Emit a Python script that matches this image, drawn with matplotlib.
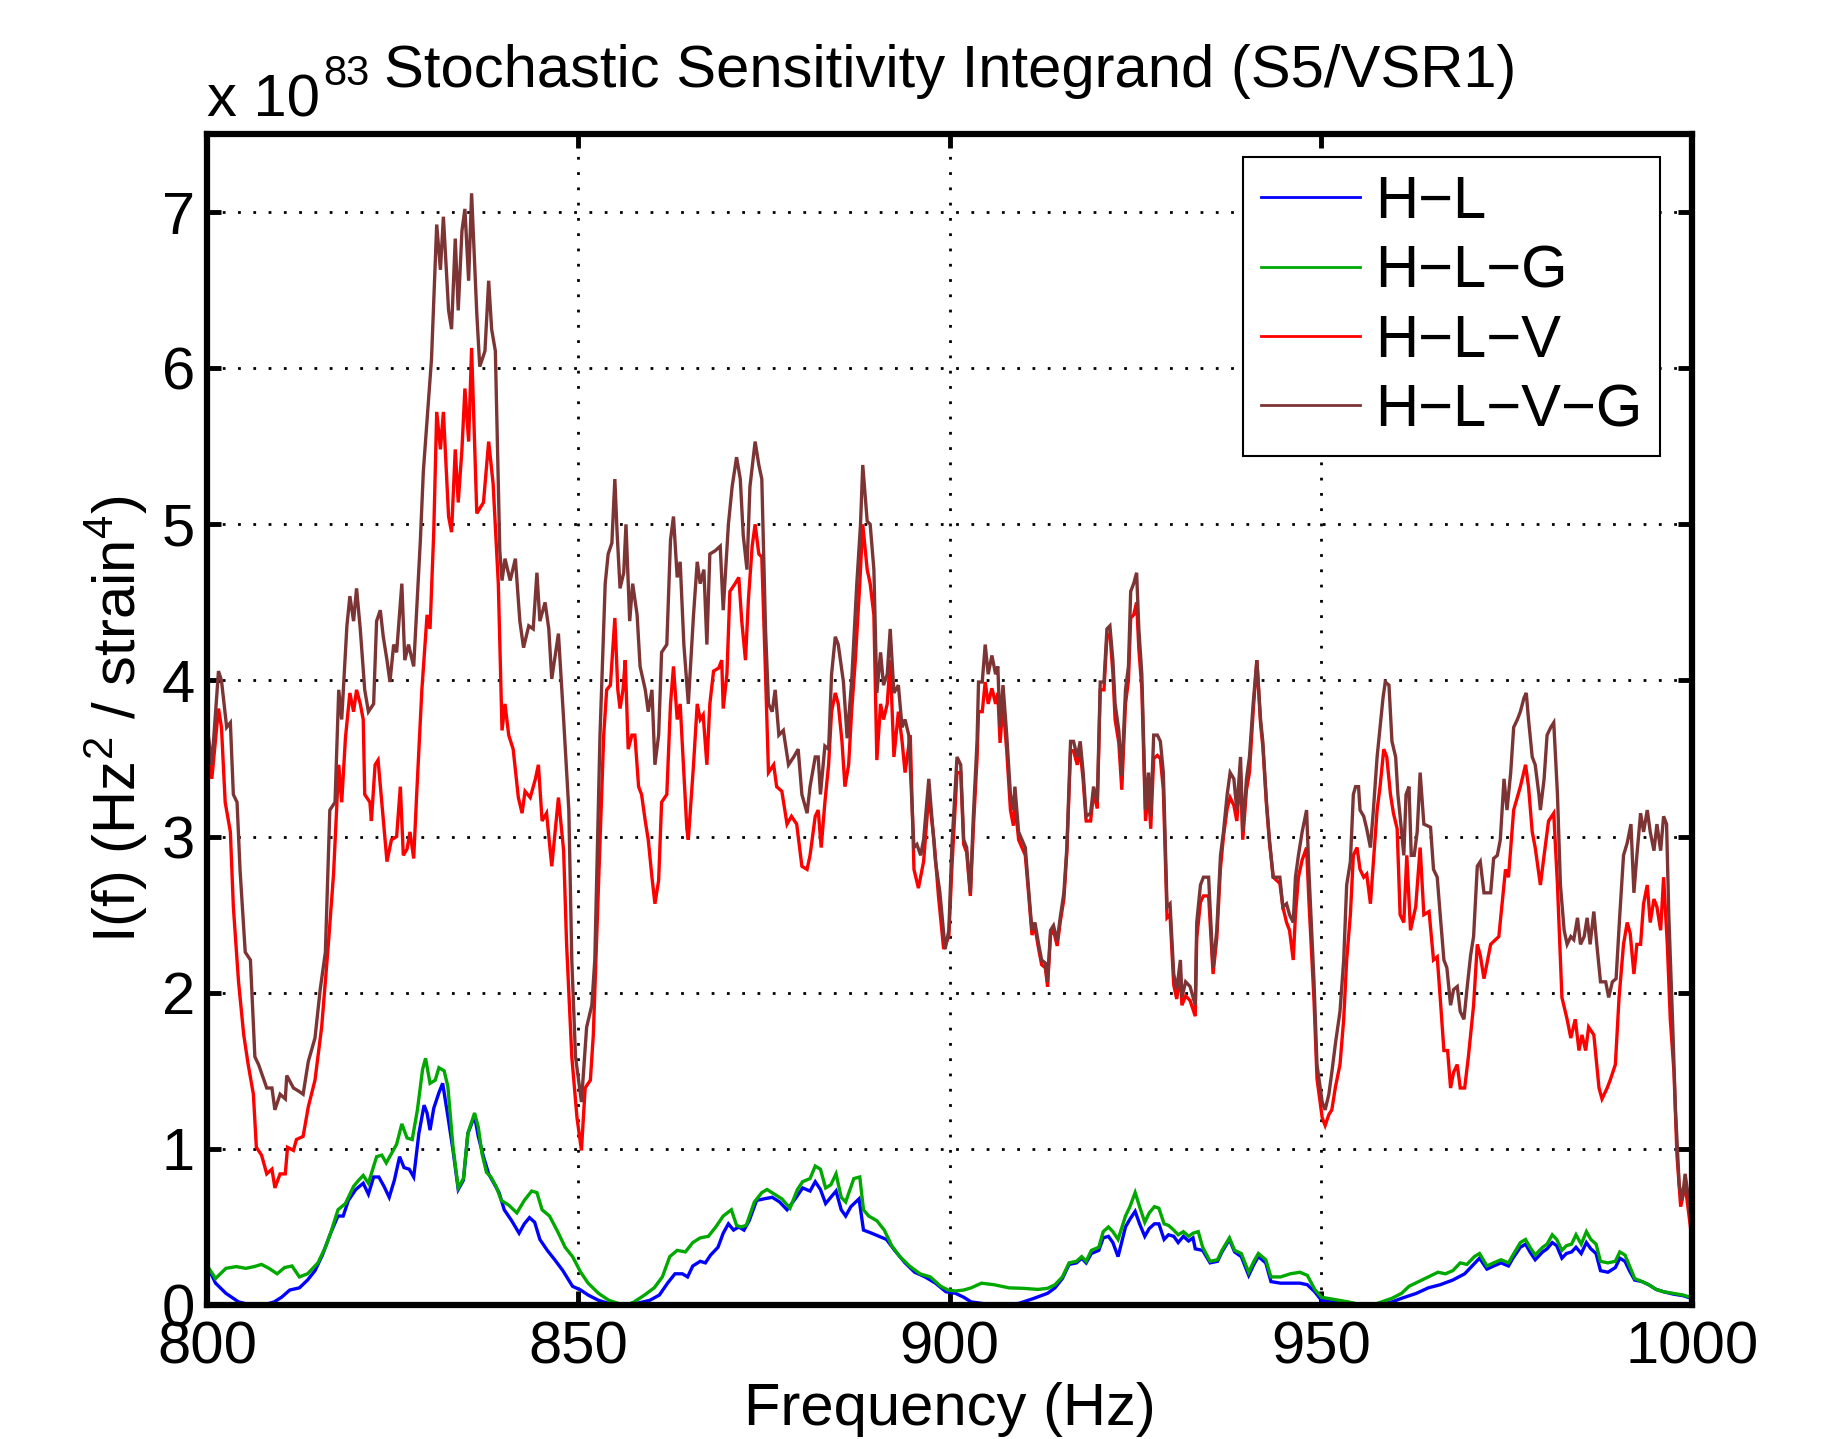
import matplotlib
matplotlib.use("Agg")
import matplotlib.pyplot as plt

plt.rcParams['font.family'] = ['Liberation Sans', 'DejaVu Sans']
plt.rcParams['mathtext.fontset'] = 'custom'
plt.rcParams['mathtext.rm'] = 'Liberation Sans'
plt.rcParams['mathtext.it'] = 'Liberation Sans:italic'
plt.rcParams['mathtext.bf'] = 'Liberation Sans:bold'

# ---------------- data (units of 1e83 Hz^2/strain^4) ----------------
f_hlvg = [800.0, 800.6, 801.5, 801.9, 802.6, 803.1, 803.5, 804.0, 804.4, 805.1, 805.8, 806.4, 806.9, 808.0, 808.7,
          809.1, 809.8, 810.5, 810.7, 811.6, 812.3, 812.9, 813.6, 814.5, 815.2, 815.9, 816.5, 817.2, 817.7, 818.1,
          818.8, 819.2, 819.7, 820.1, 820.6, 821.2, 821.7, 822.4, 822.8, 823.3, 823.7, 824.2, 824.6, 825.1, 825.5,
          826.2, 826.6, 827.1, 827.8, 828.7, 829.1, 829.6, 830.2, 830.9, 831.4, 831.8, 832.5, 832.9, 833.4, 833.8,
          834.3, 834.7, 835.2, 835.6, 836.3, 836.7, 837.4, 837.9, 838.3, 838.8, 839.4, 839.7, 840.1, 840.8, 841.5,
          842.1, 842.6, 843.3, 843.9, 844.4, 844.8, 845.5, 846.0, 846.4, 847.3, 848.0, 848.7, 849.1, 849.6, 850.4,
          851.1, 851.8, 852.2, 852.9, 853.6, 854.0, 854.5, 854.9, 855.2, 855.6, 856.1, 856.4, 856.9, 857.3, 857.9,
          858.3, 859.0, 859.4, 859.9, 860.3, 860.8, 861.2, 861.9, 862.4, 862.8, 863.3, 863.7, 864.2, 864.8, 865.5,
          866.0, 866.4, 866.9, 867.3, 867.7, 868.4, 869.1, 869.5, 870.2, 870.7, 871.3, 871.8, 872.2, 872.7, 873.1,
          873.8, 874.3, 874.7, 875.2, 875.6, 876.1, 876.5, 877.0, 877.6, 878.3, 879.0, 879.6, 880.1, 880.8, 881.2,
          881.9, 882.3, 882.6, 883.2, 883.7, 884.1, 884.6, 885.0, 885.7, 886.2, 886.8, 887.5, 888.0, 888.3, 888.9,
          889.3, 889.8, 890.2, 890.7, 891.1, 891.6, 892.0, 892.5, 893.1, 893.6, 894.0, 894.5, 895.2, 895.6, 896.1,
          896.5, 897.2, 897.6, 898.1, 898.7, 899.4, 899.9, 900.3, 901.0, 901.5, 901.9, 902.3, 902.8, 903.2, 903.7,
          903.9, 904.4, 904.8, 905.2, 905.7, 906.2, 906.5, 906.8, 907.2, 907.7, 908.2, 908.6, 908.8, 909.3, 910.2,
          910.6, 911.1, 911.5, 912.0, 912.4, 912.9, 913.2, 913.6, 914.0, 914.5, 914.9, 915.4, 915.8, 916.3, 916.7,
          917.2, 917.6, 918.0, 918.4, 919.0, 919.4, 919.9, 920.3, 920.8, 921.2, 921.6, 922.0, 922.3, 922.8, 923.2,
          923.7, 924.1, 924.4, 924.8, 925.2, 925.5, 925.9, 926.4, 926.8, 927.1, 927.5, 928.0, 928.4, 928.8, 929.3,
          929.7, 930.2, 930.6, 931.1, 931.3, 931.8, 932.4, 933.1, 933.3, 933.8, 934.2, 934.9, 935.5, 936.0, 936.5,
          936.9, 937.4, 937.8, 938.3, 938.7, 939.2, 939.5, 940.0, 940.4, 940.9, 941.4, 941.9, 942.2, 942.7, 943.1,
          943.6, 944.5, 944.9, 945.4, 945.8, 946.3, 946.6, 947.0, 947.5, 948.1, 948.4, 949.1, 949.5, 950.2, 950.6,
          951.1, 951.5, 952.0, 952.6, 953.1, 953.5, 954.0, 954.4, 954.7, 955.1, 955.3, 955.8, 956.2, 956.7, 957.1,
          957.6, 958.0, 958.4, 958.7, 959.2, 959.6, 960.1, 960.4, 960.7, 961.2, 961.5, 961.9, 962.2, 962.6, 963.0,
          963.4, 963.9, 964.8, 965.2, 965.7, 966.1, 966.6, 967.0, 967.5, 967.9, 968.4, 968.8, 969.3, 969.7, 970.2,
          970.6, 971.1, 971.5, 972.0, 972.9, 973.3, 973.8, 974.2, 974.7, 975.1, 975.6, 976.0, 976.5, 976.9, 977.4,
          977.7, 978.0, 978.5, 978.9, 979.4, 979.6, 980.1, 980.5, 981.0, 981.4, 981.9, 982.3, 982.8, 983.2, 983.7,
          984.1, 984.6, 985.0, 985.5, 985.9, 986.3, 986.8, 987.2, 987.7, 988.4, 988.8, 989.3, 989.8, 990.3, 990.8,
          991.3, 991.8, 992.2, 992.6, 993.1, 993.5, 994.0, 994.4, 994.9, 995.3, 995.8, 996.2, 996.6, 996.9, 997.4,
          997.8, 998.3, 998.7, 999.1, 999.6, 1000.0]
i_hlvg = [3.70, 3.46, 4.06, 4.00, 3.70, 3.73, 3.27, 3.22, 2.79, 2.26, 2.21, 1.59, 1.54, 1.39, 1.39,
          1.25, 1.35, 1.32, 1.47, 1.39, 1.37, 1.35, 1.56, 1.71, 2.02, 2.26, 3.17, 3.22, 3.94, 3.75,
          4.35, 4.54, 4.38, 4.59, 4.33, 3.94, 3.80, 3.85, 4.38, 4.45, 4.28, 4.13, 3.99, 4.23, 4.18,
          4.62, 4.13, 4.23, 4.09, 4.90, 5.34, 5.67, 6.06, 6.92, 6.63, 6.97, 6.37, 6.25, 6.83, 6.37,
          6.88, 7.02, 6.56, 7.12, 6.35, 6.01, 6.11, 6.56, 6.25, 6.11, 4.83, 4.64, 4.78, 4.64, 4.78,
          4.38, 4.21, 4.35, 4.33, 4.69, 4.38, 4.50, 4.33, 4.01, 4.30, 3.75, 3.17, 2.21, 1.59, 1.30,
          1.78, 1.92, 2.21, 3.65, 4.62, 4.81, 4.88, 5.29, 4.95, 4.59, 4.69, 5.00, 4.38, 4.62, 4.42,
          4.09, 3.94, 3.80, 3.94, 3.46, 3.65, 4.18, 4.23, 4.90, 5.05, 4.66, 4.76, 4.23, 3.85, 4.42,
          4.76, 4.62, 4.71, 4.23, 4.81, 4.83, 4.86, 4.45, 5.00, 5.24, 5.43, 5.29, 4.93, 4.71, 5.24,
          5.53, 5.38, 5.29, 4.33, 3.85, 3.80, 3.94, 3.65, 3.68, 3.46, 3.51, 3.56, 3.27, 3.15, 3.32,
          3.51, 3.51, 3.27, 3.58, 3.56, 4.04, 4.28, 4.23, 3.99, 3.63, 3.99, 4.62, 5.00, 5.38, 5.02,
          5.00, 4.71, 3.92, 4.18, 3.97, 4.04, 4.33, 3.92, 3.97, 3.70, 3.75, 3.65, 2.93, 2.95, 2.88,
          2.98, 3.37, 3.13, 2.84, 2.64, 2.28, 2.40, 2.93, 3.51, 3.46, 2.98, 2.93, 2.64, 3.13, 3.61,
          3.99, 3.99, 4.23, 4.04, 4.16, 4.04, 4.09, 3.70, 3.97, 3.65, 3.27, 3.17, 3.32, 3.03, 2.93,
          2.69, 2.40, 2.45, 2.31, 2.21, 2.19, 2.07, 2.40, 2.43, 2.33, 2.48, 2.64, 2.93, 3.61, 3.61,
          3.51, 3.61, 3.41, 3.13, 3.15, 3.32, 3.22, 3.99, 3.99, 4.33, 4.35, 4.13, 3.85, 3.68, 3.39,
          3.94, 4.09, 4.57, 4.62, 4.69, 4.33, 4.04, 3.17, 3.41, 3.13, 3.65, 3.65, 3.61, 3.41, 2.55,
          2.57, 2.12, 2.02, 2.21, 1.97, 2.07, 2.04, 1.92, 2.45, 2.69, 2.74, 2.74, 2.16, 2.40, 2.88,
          3.03, 3.27, 3.41, 3.37, 3.17, 3.51, 3.03, 3.37, 3.51, 3.85, 4.13, 3.75, 3.61, 3.22, 2.98,
          2.74, 2.74, 2.55, 2.57, 2.50, 2.45, 2.74, 2.88, 3.03, 3.17, 2.79, 2.07, 1.54, 1.30, 1.25,
          1.35, 1.49, 1.68, 1.88, 2.21, 2.69, 2.84, 3.27, 3.32, 3.32, 3.17, 3.13, 3.05, 2.93, 3.17,
          3.51, 3.70, 3.89, 3.99, 3.97, 3.61, 3.51, 3.27, 3.13, 2.88, 3.27, 3.32, 2.88, 2.88, 3.03,
          3.41, 3.08, 3.06, 2.79, 2.74, 2.50, 2.21, 2.16, 1.92, 2.02, 2.04, 1.88, 1.83, 2.02, 2.24,
          2.36, 2.81, 2.84, 2.64, 2.64, 2.86, 2.88, 2.98, 3.37, 3.17, 3.41, 3.70, 3.75, 3.80, 3.89,
          3.92, 3.75, 3.51, 3.46, 3.27, 3.17, 3.37, 3.65, 3.70, 3.73, 3.27, 2.69, 2.40, 2.31, 2.36,
          2.34, 2.48, 2.31, 2.36, 2.48, 2.31, 2.52, 2.31, 2.07, 2.07, 1.97, 2.07, 2.09, 2.50, 2.88,
          2.96, 3.08, 2.64, 2.88, 3.15, 3.03, 3.17, 3.03, 2.91, 3.08, 2.91, 3.13, 3.08, 2.50, 1.83,
          1.25, 0.77, 0.67, 0.84, 0.67, 0.48]

f_hlv = [800.0, 800.6, 801.5, 801.9, 802.4, 803.1, 803.5, 804.2, 804.9, 805.5, 806.2, 806.6, 807.3, 808.0, 808.7,
         809.1, 809.8, 810.5, 810.8, 811.6, 812.0, 812.9, 813.6, 814.5, 815.4, 816.3, 817.0, 817.7, 818.1, 818.6,
         819.2, 819.7, 820.1, 820.6, 821.0, 821.2, 821.9, 822.1, 822.6, 823.0, 823.5, 824.2, 824.8, 825.5, 826.0,
         826.4, 826.9, 827.3, 827.8, 828.2, 828.9, 829.6, 830.0, 830.5, 830.9, 831.4, 831.8, 832.5, 832.9, 833.4,
         833.8, 834.3, 834.7, 835.2, 835.6, 836.3, 837.2, 837.9, 838.5, 839.2, 839.7, 840.1, 840.6, 841.2, 841.9,
         842.4, 842.8, 843.5, 844.2, 844.6, 845.1, 845.7, 846.4, 847.3, 848.0, 848.4, 849.1, 849.8, 850.4, 850.9,
         851.6, 852.0, 852.7, 853.4, 853.8, 854.3, 854.9, 855.3, 855.6, 856.0, 856.3, 856.7, 857.2, 857.6, 858.1,
         858.5, 859.0, 859.4, 859.9, 860.3, 860.8, 861.2, 861.9, 862.4, 862.8, 863.3, 863.7, 864.2, 864.6, 864.8,
         865.5, 866.0, 866.4, 866.8, 867.3, 867.7, 868.2, 868.9, 869.3, 869.5, 870.0, 870.4, 871.1, 871.6, 872.0,
         872.5, 872.9, 873.4, 873.8, 874.3, 874.7, 875.2, 875.6, 876.3, 876.7, 877.4, 878.1, 878.7, 879.4, 880.1,
         880.8, 881.2, 881.9, 882.3, 882.7, 883.2, 883.7, 884.1, 884.6, 885.0, 885.5, 885.9, 886.4, 886.8, 887.3,
         887.9, 888.3, 888.9, 889.3, 889.8, 890.2, 890.7, 891.1, 891.6, 892.0, 892.5, 893.1, 893.6, 894.0, 894.7,
         895.2, 895.8, 896.5, 897.2, 897.9, 898.5, 899.2, 899.9, 900.3, 901.0, 901.5, 901.9, 902.3, 902.8, 903.2,
         903.7, 903.9, 904.4, 904.8, 905.2, 905.7, 906.2, 906.5, 906.8, 907.2, 907.7, 908.2, 908.6, 908.8, 909.3,
         910.2, 910.6, 911.1, 911.5, 912.0, 912.4, 912.9, 913.2, 913.6, 914.0, 914.5, 914.9, 915.4, 915.8, 916.3,
         916.7, 917.2, 917.6, 918.0, 918.4, 919.0, 919.4, 919.9, 920.3, 920.8, 921.2, 921.6, 922.0, 922.3, 922.8,
         923.2, 923.7, 924.1, 924.4, 924.8, 925.2, 925.5, 925.9, 926.4, 926.8, 927.1, 927.5, 928.0, 928.4, 928.8,
         929.3, 929.7, 930.2, 930.6, 931.1, 931.3, 931.8, 932.4, 933.1, 933.3, 933.8, 934.2, 934.9, 935.5, 936.0,
         936.5, 936.9, 937.4, 937.8, 938.3, 938.7, 939.2, 939.5, 940.0, 940.4, 940.9, 941.4, 941.9, 942.2, 942.7,
         943.1, 943.6, 944.5, 944.9, 945.4, 945.8, 946.3, 946.6, 947.0, 947.5, 948.1, 948.4, 949.1, 949.5, 950.2,
         950.6, 951.1, 951.5, 952.0, 952.6, 953.1, 953.5, 954.0, 954.4, 954.9, 955.3, 955.8, 956.2, 956.7, 957.1,
         957.6, 958.0, 958.5, 958.9, 959.4, 959.8, 960.3, 960.7, 961.2, 961.6, 962.1, 962.8, 963.4, 963.9, 964.6,
         965.2, 965.7, 966.1, 966.6, 967.1, 967.5, 967.9, 968.4, 968.8, 969.4, 969.9, 970.6, 971.1, 971.5, 972.0,
         972.9, 974.0, 974.4, 974.9, 975.3, 976.0, 976.9, 977.6, 978.0, 978.5, 978.9, 979.6, 980.1, 980.7, 981.4,
         981.9, 982.5, 983.2, 983.7, 984.3, 984.8, 985.2, 985.7, 986.1, 986.8, 987.5, 987.9, 988.6, 989.0, 989.7,
         990.2, 990.8, 991.3, 991.7, 992.2, 992.6, 993.1, 993.5, 994.0, 994.4, 994.9, 995.3, 995.8, 996.2, 996.7,
         997.1, 997.6, 998.0, 998.5, 999.1, 999.6, 1000.0]
i_hlv = [3.58, 3.37, 3.82, 3.70, 3.22, 3.03, 2.55, 2.07, 1.73, 1.54, 1.35, 1.01, 0.96, 0.84, 0.87,
         0.75, 0.84, 0.84, 1.01, 0.99, 1.06, 1.08, 1.27, 1.44, 1.78, 2.31, 2.76, 3.46, 3.22, 3.63,
         3.92, 3.80, 3.94, 3.85, 3.75, 3.27, 3.22, 3.10, 3.46, 3.49, 3.22, 2.84, 2.98, 3.00, 3.32,
         2.88, 2.92, 3.03, 2.86, 3.27, 3.94, 4.42, 4.33, 4.95, 5.72, 5.48, 5.72, 5.05, 4.95, 5.48,
         5.14, 5.48, 5.87, 5.53, 6.13, 5.07, 5.14, 5.53, 5.26, 4.62, 3.68, 3.85, 3.65, 3.56, 3.25,
         3.15, 3.29, 3.25, 3.37, 3.46, 3.10, 3.15, 2.81, 3.25, 2.91, 2.31, 1.59, 1.20, 0.99, 1.39,
         1.44, 1.73, 2.69, 3.65, 3.94, 3.97, 4.40, 3.94, 3.82, 3.94, 4.13, 3.56, 3.65, 3.65, 3.32,
         3.27, 3.10, 2.98, 2.74, 2.57, 2.72, 3.22, 3.27, 3.85, 4.09, 3.75, 3.85, 3.41, 3.05, 2.98,
         3.46, 3.85, 3.75, 3.78, 3.46, 3.85, 4.06, 4.08, 4.13, 3.82, 4.04, 4.57, 4.62, 4.66, 4.38,
         4.13, 4.52, 4.86, 5.00, 4.81, 4.79, 4.04, 3.41, 3.46, 3.32, 3.29, 3.08, 3.13, 3.08, 2.81,
         2.79, 2.88, 3.13, 3.17, 2.93, 3.22, 3.46, 3.80, 3.92, 3.85, 3.61, 3.32, 3.46, 3.80, 4.13,
         4.62, 5.00, 4.71, 4.62, 4.42, 3.49, 3.85, 3.75, 3.85, 4.13, 3.51, 3.80, 3.61, 3.41, 3.65,
         2.79, 2.67, 2.84, 3.27, 2.98, 2.62, 2.28, 2.36, 2.79, 3.41, 3.41, 2.95, 2.90, 2.62, 3.05,
         3.50, 3.80, 3.80, 3.99, 3.85, 3.95, 3.85, 3.92, 3.60, 3.85, 3.55, 3.17, 3.07, 3.22, 2.98,
         2.88, 2.66, 2.37, 2.42, 2.28, 2.18, 2.16, 2.04, 2.37, 2.40, 2.30, 2.45, 2.60, 2.90, 3.55,
         3.55, 3.46, 3.55, 3.36, 3.10, 3.10, 3.28, 3.18, 3.94, 3.94, 4.28, 4.30, 4.05, 3.75, 3.60,
         3.30, 3.85, 4.00, 4.40, 4.42, 4.50, 4.20, 3.95, 3.10, 3.30, 3.05, 3.50, 3.52, 3.50, 3.30,
         2.48, 2.50, 2.05, 1.96, 2.12, 1.92, 1.98, 1.95, 1.85, 2.35, 2.58, 2.62, 2.62, 2.12, 2.35,
         2.80, 3.00, 3.18, 3.25, 3.20, 3.10, 3.41, 2.98, 3.30, 3.41, 3.80, 4.13, 3.72, 3.58, 3.20,
         2.96, 2.74, 2.70, 2.55, 2.45, 2.40, 2.21, 2.50, 2.74, 2.85, 2.93, 2.60, 1.95, 1.45, 1.20,
         1.15, 1.22, 1.25, 1.40, 1.54, 1.83, 2.21, 2.50, 2.88, 2.93, 2.79, 2.74, 2.76, 2.57, 2.84,
         3.17, 3.32, 3.56, 3.51, 3.27, 3.15, 3.05, 2.50, 2.45, 2.88, 2.40, 2.55, 2.93, 2.50, 2.52,
         2.21, 2.23, 1.97, 1.63, 1.63, 1.39, 1.49, 1.54, 1.39, 1.39, 1.59, 1.92, 2.31, 2.24, 2.09,
         2.31, 2.36, 2.55, 2.79, 2.74, 3.17, 3.32, 3.46, 3.32, 3.03, 2.93, 2.69, 2.88, 3.10, 3.15,
         2.69, 1.97, 1.83, 1.71, 1.83, 1.63, 1.73, 1.63, 1.78, 1.73, 1.39, 1.32, 1.39, 1.44, 1.54,
         1.97, 2.31, 2.45, 2.38, 2.12, 2.31, 2.31, 2.57, 2.69, 2.45, 2.60, 2.55, 2.40, 2.74, 2.31,
         1.83, 1.49, 0.96, 0.63, 0.77, 0.58, 0.43]

f_hlg = [800.0, 801.1, 802.5, 803.9, 805.2, 806.3, 807.3, 808.3, 809.4, 810.4, 811.4, 812.4, 813.5, 814.9, 815.9,
         816.6, 817.6, 818.6, 819.7, 820.4, 821.0, 821.7, 822.8, 823.5, 824.1, 824.8, 825.5, 826.2, 826.9, 827.6,
         828.3, 829.0, 829.4, 830.0, 830.7, 831.2, 831.9, 832.4, 833.1, 833.8, 834.5, 835.1, 836.0, 836.5, 837.0,
         837.6, 838.2, 838.9, 839.6, 840.6, 841.7, 842.7, 843.7, 844.4, 845.1, 846.1, 847.2, 848.2, 849.2, 850.3,
         851.3, 852.7, 854.1, 855.4, 856.5, 857.5, 858.9, 860.2, 861.3, 862.3, 863.3, 864.4, 865.4, 866.4, 867.5,
         868.5, 869.5, 870.6, 871.3, 871.9, 872.6, 873.7, 874.7, 875.4, 876.4, 877.4, 878.5, 879.5, 880.2, 881.2,
         881.9, 882.6, 883.3, 884.0, 884.7, 885.4, 886.0, 887.1, 887.9, 888.4, 889.1, 890.2, 891.2, 892.2, 893.3,
         894.6, 896.0, 897.4, 898.8, 899.8, 900.8, 901.9, 902.9, 904.3, 906.0, 908.0, 909.9, 911.9, 913.2, 914.2,
         915.2, 916.1, 917.1, 917.8, 918.4, 919.1, 920.1, 920.7, 921.4, 922.0, 922.7, 923.7, 924.3, 925.0, 925.6,
         926.3, 926.9, 927.6, 928.2, 928.9, 929.5, 930.2, 930.8, 931.5, 932.2, 932.8, 933.5, 934.1, 935.1, 936.1,
         936.7, 937.7, 938.4, 939.3, 940.3, 941.0, 941.6, 942.6, 943.3, 944.6, 945.9, 947.2, 948.2, 949.2, 950.1,
         951.8, 953.7, 955.7, 957.6, 959.6, 960.9, 961.9, 963.2, 964.5, 965.8, 966.8, 967.8, 968.8, 969.7, 970.7,
         971.4, 972.4, 973.3, 974.3, 975.3, 975.9, 976.9, 977.6, 978.2, 978.9, 979.9, 980.5, 981.2, 981.8, 982.5,
         983.1, 983.8, 984.4, 985.1, 985.8, 986.4, 987.1, 987.7, 988.7, 989.7, 990.3, 991.0, 991.6, 992.3, 993.3,
         994.2, 995.2, 996.2, 997.5, 998.8, 999.8]
i_hlg = [0.25, 0.17, 0.235, 0.246, 0.235, 0.246, 0.26, 0.235, 0.20, 0.24, 0.25, 0.18, 0.20, 0.27, 0.37,
         0.46, 0.61, 0.65, 0.76, 0.80, 0.83, 0.78, 0.95, 0.96, 0.91, 0.97, 1.03, 1.16, 1.07, 1.06,
         1.25, 1.51, 1.58, 1.42, 1.44, 1.52, 1.50, 1.40, 1.01, 0.75, 0.81, 1.10, 1.23, 1.14, 0.97,
         0.85, 0.82, 0.76, 0.67, 0.64, 0.59, 0.67, 0.73, 0.72, 0.61, 0.57, 0.47, 0.37, 0.31, 0.21,
         0.14, 0.075, 0.03, 0.01, 0.0, 0.02, 0.064, 0.11, 0.18, 0.31, 0.35, 0.34, 0.40, 0.43, 0.44,
         0.50, 0.57, 0.61, 0.51, 0.50, 0.51, 0.66, 0.72, 0.74, 0.71, 0.68, 0.62, 0.74, 0.79, 0.81,
         0.89, 0.87, 0.75, 0.77, 0.84, 0.69, 0.66, 0.81, 0.82, 0.61, 0.57, 0.54, 0.48, 0.38, 0.31,
         0.25, 0.20, 0.18, 0.12, 0.096, 0.09, 0.096, 0.11, 0.14, 0.13, 0.11, 0.107, 0.10, 0.107, 0.13,
         0.18, 0.27, 0.28, 0.31, 0.28, 0.35, 0.37, 0.47, 0.50, 0.47, 0.42, 0.57, 0.63, 0.72, 0.63,
         0.53, 0.59, 0.63, 0.62, 0.52, 0.51, 0.48, 0.45, 0.47, 0.44, 0.46, 0.47, 0.37, 0.28, 0.29,
         0.35, 0.43, 0.35, 0.33, 0.21, 0.28, 0.33, 0.29, 0.18, 0.18, 0.20, 0.21, 0.19, 0.10, 0.05,
         0.036, 0.02, 0.0, 0.01, 0.043, 0.075, 0.12, 0.15, 0.18, 0.21, 0.20, 0.22, 0.27, 0.26, 0.31,
         0.33, 0.25, 0.27, 0.29, 0.27, 0.32, 0.40, 0.42, 0.37, 0.32, 0.37, 0.39, 0.45, 0.42, 0.35,
         0.38, 0.39, 0.45, 0.39, 0.47, 0.42, 0.39, 0.28, 0.27, 0.28, 0.34, 0.32, 0.25, 0.17, 0.15,
         0.13, 0.10, 0.085, 0.075, 0.064, 0.05]

f_hl = [800.0, 801.1, 802.5, 804.2, 805.9, 807.6, 809.0, 810.0, 811.1, 812.4, 813.5, 814.5, 815.5, 816.6, 817.6,
        818.3, 819.0, 820.0, 821.0, 821.7, 822.4, 823.1, 823.8, 824.5, 825.2, 825.9, 826.5, 827.2, 827.8, 828.5,
        829.2, 829.6, 830.0, 830.5, 831.2, 831.7, 832.4, 833.1, 833.8, 834.5, 835.1, 836.0, 836.5, 837.2, 837.9,
        838.6, 839.3, 840.0, 841.0, 842.0, 842.7, 843.4, 844.1, 844.8, 845.8, 846.8, 847.9, 849.2, 850.3, 851.3,
        852.7, 854.1, 856.1, 857.8, 859.6, 860.9, 862.0, 863.0, 864.0, 864.7, 865.4, 866.4, 867.1, 867.8, 868.8,
        869.5, 870.2, 870.9, 871.6, 872.3, 873.0, 874.0, 875.0, 876.1, 877.1, 878.1, 879.2, 880.2, 881.2, 881.9,
        882.6, 883.3, 884.0, 884.7, 885.4, 886.0, 886.7, 887.8, 888.4, 889.5, 890.5, 891.5, 892.6, 894.0, 895.3,
        896.7, 898.1, 899.5, 900.8, 901.9, 902.9, 905.0, 906.7, 909.3, 911.2, 913.2, 914.2, 915.2, 916.1, 917.1,
        917.8, 918.4, 919.1, 920.1, 920.7, 921.4, 922.0, 922.7, 923.7, 924.3, 925.0, 925.6, 926.3, 926.9, 927.6,
        928.2, 928.9, 929.5, 930.2, 930.8, 931.5, 932.2, 932.8, 933.1, 934.1, 935.1, 936.1, 936.7, 937.7, 938.4,
        939.3, 940.3, 941.0, 941.6, 942.6, 943.3, 944.6, 945.9, 947.2, 948.2, 949.2, 950.1, 951.8, 953.7, 955.7,
        957.6, 959.6, 960.9, 962.9, 964.5, 966.1, 967.8, 969.4, 971.4, 972.4, 973.3, 974.3, 975.3, 975.9, 976.9,
        977.6, 978.2, 978.9, 979.9, 980.5, 981.2, 981.8, 982.5, 983.1, 983.8, 984.4, 985.1, 985.8, 986.4, 987.1,
        987.7, 988.7, 989.7, 990.3, 991.0, 991.6, 992.3, 993.3, 994.2, 995.2, 996.2, 997.5, 998.8, 999.8]
i_hl = [0.25, 0.14, 0.075, 0.02, 0.0, 0.0, 0.02, 0.05, 0.096, 0.11, 0.16, 0.22, 0.32, 0.46, 0.57,
        0.57, 0.67, 0.74, 0.78, 0.71, 0.82, 0.82, 0.76, 0.69, 0.80, 0.95, 0.88, 0.87, 0.82, 1.10,
        1.28, 1.23, 1.12, 1.26, 1.36, 1.42, 1.21, 0.99, 0.74, 0.80, 1.10, 1.21, 1.08, 0.95, 0.84,
        0.78, 0.72, 0.61, 0.54, 0.46, 0.52, 0.56, 0.53, 0.42, 0.35, 0.29, 0.22, 0.12, 0.096, 0.064,
        0.03, 0.01, 0.0, 0.01, 0.03, 0.064, 0.14, 0.20, 0.20, 0.18, 0.25, 0.28, 0.27, 0.32, 0.37,
        0.46, 0.52, 0.48, 0.50, 0.48, 0.54, 0.67, 0.68, 0.69, 0.66, 0.61, 0.68, 0.75, 0.73, 0.79,
        0.74, 0.65, 0.69, 0.73, 0.61, 0.57, 0.63, 0.68, 0.48, 0.46, 0.44, 0.42, 0.35, 0.27, 0.21,
        0.18, 0.14, 0.085, 0.075, 0.05, 0.02, 0.006, 0.0, 0.01, 0.04, 0.075, 0.11, 0.17, 0.26, 0.27,
        0.30, 0.27, 0.33, 0.35, 0.43, 0.44, 0.40, 0.31, 0.50, 0.55, 0.60, 0.52, 0.44, 0.49, 0.52,
        0.52, 0.42, 0.45, 0.44, 0.40, 0.44, 0.41, 0.43, 0.36, 0.35, 0.27, 0.28, 0.34, 0.42, 0.34,
        0.31, 0.19, 0.26, 0.31, 0.27, 0.15, 0.14, 0.14, 0.14, 0.13, 0.085, 0.03, 0.02, 0.01, 0.0,
        0.0, 0.02, 0.043, 0.075, 0.11, 0.13, 0.16, 0.20, 0.30, 0.23, 0.25, 0.27, 0.25, 0.30, 0.37,
        0.39, 0.34, 0.29, 0.34, 0.36, 0.40, 0.38, 0.30, 0.33, 0.34, 0.37, 0.33, 0.40, 0.36, 0.33,
        0.22, 0.21, 0.24, 0.30, 0.28, 0.22, 0.16, 0.15, 0.13, 0.10, 0.085, 0.07, 0.06, 0.045]

labels = ["H\u2212L", "H\u2212L\u2212G", "H\u2212L\u2212V", "H\u2212L\u2212V\u2212G"]
colors = ["#0000ff", "#00a800", "#ff0000", "#7d3434"]
x_ticks = [800, 850, 900, 950, 1000]
y_ticks = [0, 1, 2, 3, 4, 5, 6, 7]

# ---------------- figure ----------------
FS = 43
fig = plt.figure(figsize=(18.27, 14.39), dpi=100)
ax = fig.add_axes([0.1135, 0.0931, 0.8125, 0.8138])

series = [(f_hl, i_hl), (f_hlg, i_hlg), (f_hlv, i_hlv), (f_hlvg, i_hlvg)]
for (fx, iy), lab, col in zip(series, labels, colors):
    ax.plot(fx, iy, color=col, lw=2.4, label=lab, solid_joinstyle='miter')

ax.set_xlim(800, 1000)
ax.set_ylim(0, 7.5)
ax.set_xticks(x_ticks)
ax.set_yticks(y_ticks)
ax.set_xticklabels([str(v) for v in x_ticks])
ax.set_yticklabels([str(v) for v in y_ticks])
ax.grid(True, color='black', linestyle=(0, (1, 4.5)), linewidth=2)
ax.set_axisbelow(True)
for sp in ax.spines.values():
    sp.set_linewidth(4.5)
    sp.set_zorder(5)
ax.tick_params(axis='both', which='major', direction='in', length=10, width=3.5,
               labelsize=FS, top=True, right=True)
ax.tick_params(axis='x', pad=11)
ax.tick_params(axis='y', pad=9)

leg = ax.legend(loc='upper right', bbox_to_anchor=(0.9788, 0.980), fontsize=FS, frameon=True,
                fancybox=False, framealpha=1, edgecolor='black', borderpad=0.3,
                handlelength=1.66, handletextpad=0.25, labelspacing=0.24, borderaxespad=0)
leg.get_frame().set_linewidth(1.5)
for ln in leg.get_lines():
    ln.set_linewidth(2.0)

fig.text(0.52, 0.9395, "Stochastic Sensitivity Integrand (S5/VSR1)", ha='center', va='baseline', fontsize=FS)
t1 = fig.text(0.1135, 0.919, "x 10", ha='left', va='baseline', fontsize=FS)
ax.annotate("83", xy=(1.0, 0.62), xycoords=t1, xytext=(2, 0), textcoords='offset points',
            ha='left', va='bottom', fontsize=30)
fig.text(0.0638, 0.5, "I(f) (Hz$^2$ / strain$^4$)", rotation=90, ha='center', va='center', fontsize=FS)
fig.text(0.52, 0.0095, "Frequency (Hz)", ha='center', va='baseline', fontsize=FS)

fig.savefig("out.png", dpi=100, facecolor='white')
